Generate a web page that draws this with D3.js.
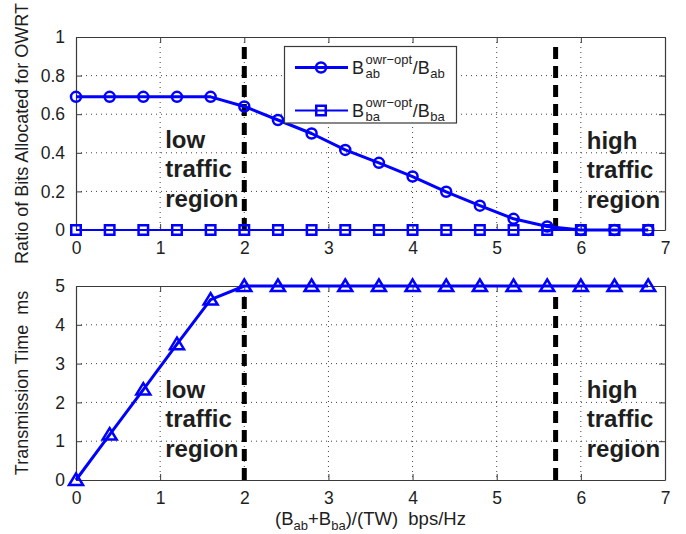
<!DOCTYPE html>
<html>
<head>
<meta charset="utf-8">
<script src="https://cdn.jsdelivr.net/npm/d3@7"></script>
<style>
  html, body { margin: 0; padding: 0; background: #fff; }
  svg { display: block; }
  text { font-family: "Liberation Sans", Arial, Helvetica, sans-serif; fill: #1e1e1e; }
</style>
</head>
<body>
<svg id="chart" width="686" height="534"></svg>
<script>
// ---- data ----
const xValues = [0, 0.4, 0.8, 1.2, 1.6, 2.0, 2.4, 2.8, 3.2, 3.6, 4.0, 4.4, 4.8, 5.2, 5.6, 6.0, 6.4, 6.8];
const ratioAB = [0.69, 0.69, 0.69, 0.69, 0.69, 0.64, 0.57, 0.50, 0.415, 0.348, 0.277, 0.198, 0.126, 0.058, 0.018, 0, 0, 0];
const ratioBA = [0, 0, 0, 0, 0, 0, 0, 0, 0, 0, 0, 0, 0, 0, 0, 0, 0, 0];
const transTime = [0, 1.17, 2.33, 3.5, 4.65, 5, 5, 5, 5, 5, 5, 5, 5, 5, 5, 5, 5, 5];
const xTicks = [0, 1, 2, 3, 4, 5, 6, 7];
const yTicksTop = [0, 0.2, 0.4, 0.6, 0.8, 1];
const yTickLabelsTop = ["0", "0.2", "0.4", "0.6", "0.8", "1"];
const yTicksBottom = [0, 1, 2, 3, 4, 5];
const boundaries = [2, 5.7];
const boundaryTopY = [0.95, 0.95];
const boundaryBottomY = [4.82, 4.78];
const regionLines = {
  low: ["low", "traffic", "region"],
  high: ["high", "traffic", "region"]
};
const regionX = [1.06, 6.07];
const regionYTop = [0.427, 0.422];
const regionYBottom = [2.12, 2.12];

// ---- layout ----
const svg = d3.select("#chart");
const L = 76, R = 665;
const top1 = 37, bot1 = 230, top2 = 286, bot2 = 480;
const blue = "#0000ff";
const axisColor = "#3a3a3a";

const x = d3.scaleLinear().domain([0, 7]).range([L, R]);
const y1 = d3.scaleLinear().domain([0, 1]).range([bot1, top1]);
const y2 = d3.scaleLinear().domain([0, 5]).range([bot2, top2]);

function panel(g, y, yTicks, yLabels, top, bot) {
  const grid = g.append("g").attr("stroke", "#444").attr("stroke-width", 1).attr("stroke-dasharray", "1,4");
  xTicks.slice(1, -1).forEach(t => {
    grid.append("line").attr("x1", x(t)).attr("x2", x(t)).attr("y1", top).attr("y2", bot);
  });
  yTicks.slice(1, -1).forEach(t => {
    grid.append("line").attr("x1", L).attr("x2", R).attr("y1", y(t)).attr("y2", y(t));
  });
  const xa = g.append("g").attr("transform", `translate(0,${bot})`)
    .call(d3.axisBottom(x).tickValues(xTicks).tickSizeInner(-6).tickSizeOuter(0).tickPadding(12).tickFormat(d3.format("d")));
  const ya = g.append("g").attr("transform", `translate(${L},0)`)
    .call(d3.axisLeft(y).tickValues(yTicks).tickSizeInner(-6).tickSizeOuter(0).tickPadding(11).tickFormat((d, i) => yLabels[i]));
  const xt = g.append("g").attr("transform", `translate(0,${top})`)
    .call(d3.axisTop(x).tickValues(xTicks).tickSizeInner(-6).tickSizeOuter(0).tickFormat(""));
  const yr = g.append("g").attr("transform", `translate(${R},0)`)
    .call(d3.axisRight(y).tickValues(yTicks).tickSizeInner(-6).tickSizeOuter(0).tickFormat(""));
  [xa, ya, xt, yr].forEach(a => {
    a.selectAll("path").attr("stroke", axisColor).attr("stroke-width", 1.2);
    a.selectAll("line").attr("stroke", axisColor).attr("stroke-width", 1);
    a.selectAll("text").style("font-size", "17.5px").attr("fill", "#1e1e1e")
      .style("font-family", '"Liberation Sans", Arial, sans-serif');
  });
}

const g1 = svg.append("g");
const g2 = svg.append("g");
panel(g1, y1, yTicksTop, yTickLabelsTop, top1, bot1);
panel(g2, y2, yTicksBottom, yTicksBottom.map(String), top2, bot2);

// boundary dashed lines
boundaries.forEach((b, i) => {
  g1.append("line").attr("x1", x(b)).attr("x2", x(b)).attr("y1", y1(0)).attr("y2", y1(boundaryTopY[i]))
    .attr("stroke", "#000").attr("stroke-width", 5).attr("stroke-dasharray", "12,7");
  g2.append("line").attr("x1", x(b)).attr("x2", x(b)).attr("y1", y2(0)).attr("y2", y2(boundaryBottomY[i]))
    .attr("stroke", "#000").attr("stroke-width", 5).attr("stroke-dasharray", "12,7");
});

// region text
function regionText(g, xv, yv, lines, yScale) {
  const t = g.append("text").attr("x", x(xv)).attr("y", yScale(yv))
    .style("font-size", "24px").style("font-weight", "bold").attr("fill", "#1e1e1e");
  lines.forEach((s, i) => {
    t.append("tspan").attr("x", x(xv)).attr("dy", i === 0 ? 0 : 29.5).text(s);
  });
}
regionText(g1, regionX[0], regionYTop[0], regionLines.low, y1);
regionText(g1, regionX[1], regionYTop[1], regionLines.high, y1);
regionText(g2, regionX[0], regionYBottom[0], regionLines.low, y2);
regionText(g2, regionX[1], regionYBottom[1], regionLines.high, y2);

// series
const ptsAB = xValues.map((v, i) => [v, ratioAB[i]]);
const ptsBA = xValues.map((v, i) => [v, ratioBA[i]]);
const ptsT = xValues.map((v, i) => [v, transTime[i]]);

const line1 = d3.line().x(d => x(d[0])).y(d => y1(d[1]));
const line2 = d3.line().x(d => x(d[0])).y(d => y2(d[1]));

g1.append("path").attr("d", line1(ptsAB)).attr("fill", "none").attr("stroke", blue).attr("stroke-width", 3).attr("stroke-linejoin", "round");
g1.selectAll("circle.ab").data(ptsAB).enter().append("circle")
  .attr("cx", d => x(d[0])).attr("cy", d => y1(d[1])).attr("r", 5)
  .attr("fill", "none").attr("stroke", blue).attr("stroke-width", 2.5);

g1.append("path").attr("d", line1(ptsBA)).attr("fill", "none").attr("stroke", blue).attr("stroke-width", 2);
const sq = d3.symbol().type(d3.symbolSquare).size(90);
g1.selectAll("path.ba").data(ptsBA).enter().append("path")
  .attr("transform", d => `translate(${x(d[0])},${y1(d[1])})`).attr("d", sq)
  .attr("fill", "none").attr("stroke", blue).attr("stroke-width", 2.5);

g2.append("path").attr("d", line2(ptsT)).attr("fill", "none").attr("stroke", blue).attr("stroke-width", 3).attr("stroke-linejoin", "round");
g2.selectAll("path.tri").data(ptsT).enter().append("path")
  .attr("d", d => {
    const cx = x(d[0]), cy = y2(d[1]);
    return `M${cx},${cy - 6.5}L${cx + 7},${cy + 5}L${cx - 7},${cy + 5}Z`;
  })
  .attr("fill", "none").attr("stroke", blue).attr("stroke-width", 2.5).attr("stroke-linejoin", "miter");

// legend
const lg = svg.append("g");
lg.append("rect").attr("x", 284.5).attr("y", 46.5).attr("width", 172).attr("height", 76.5)
  .attr("fill", "#fff").attr("stroke", axisColor).attr("stroke-width", 1.2);
const legendRows = [
  { sub: "ab", marker: "circle", y: 67.5 },
  { sub: "ba", marker: "square", y: 110.5 }
];
legendRows.forEach(r => {
  lg.append("line").attr("x1", 295).attr("x2", 348).attr("y1", r.y).attr("y2", r.y)
    .attr("stroke", blue).attr("stroke-width", r.marker === "circle" ? 3 : 2);
  if (r.marker === "circle") {
    lg.append("circle").attr("cx", 321).attr("cy", r.y).attr("r", 5).attr("fill", "none").attr("stroke", blue).attr("stroke-width", 2.5);
  } else {
    lg.append("path").attr("transform", `translate(321,${r.y})`).attr("d", sq).attr("fill", "none").attr("stroke", blue).attr("stroke-width", 2.5);
  }
  const base = r.y + 6;
  let cx = 352;
  const tB = lg.append("text").attr("x", cx).attr("y", base).style("font-size", "18px").text("B");
  cx += tB.node().getComputedTextLength() + 1.5;
  const tSup = lg.append("text").attr("x", cx).attr("y", base - 9.5).style("font-size", "13px").text("owr\u2212opt");
  const tSub = lg.append("text").attr("x", cx).attr("y", base + 4).style("font-size", "13px").text(r.sub);
  cx += Math.max(tSup.node().getComputedTextLength(), tSub.node().getComputedTextLength()) + 0.5;
  const tSl = lg.append("text").attr("x", cx).attr("y", base).style("font-size", "18px").text("/B");
  cx += tSl.node().getComputedTextLength() + 0.5;
  lg.append("text").attr("x", cx).attr("y", base + 4).style("font-size", "13px").text(r.sub);
});

// axis labels
svg.append("text").attr("transform", `translate(28,${(top1 + bot1) / 2}) rotate(-90)`)
  .attr("text-anchor", "middle").style("font-size", "18px").text("Ratio of Bits Allocated for OWRT");
svg.append("text").attr("transform", `translate(28,${(top2 + bot2) / 2}) rotate(-90)`)
  .attr("text-anchor", "middle").style("font-size", "18px").text("Transmission Time\u00a0\u00a0ms");

const xl = svg.append("text").attr("x", (L + R) / 2).attr("y", 525).attr("text-anchor", "middle").style("font-size", "18.5px");
xl.append("tspan").text("(B");
xl.append("tspan").attr("dy", 5).style("font-size", "13px").text("ab");
xl.append("tspan").attr("dy", -5).text("+B");
xl.append("tspan").attr("dy", 5).style("font-size", "13px").text("ba");
xl.append("tspan").attr("dy", -5).text(")/(TW)\u00a0\u00a0bps/Hz");
</script>
</body>
</html>
